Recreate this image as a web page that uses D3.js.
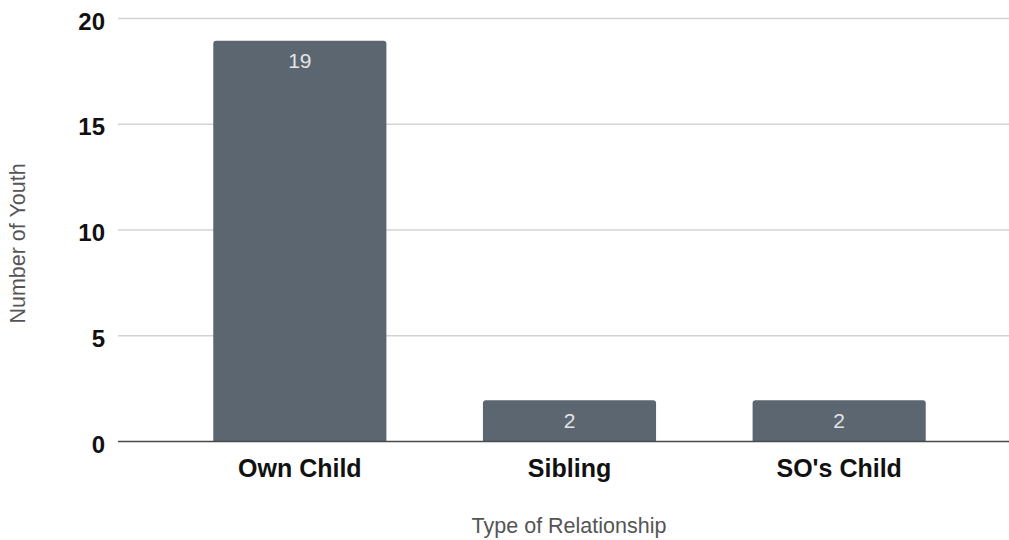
<!DOCTYPE html>
<html><head><meta charset="utf-8">
<script src="https://cdn.jsdelivr.net/npm/d3@7"></script>
<style>body{margin:0;background:#fff}svg{display:block;font-family:"Liberation Sans",Arial,sans-serif}</style>
</head><body>
<svg id="c" width="1009" height="540"></svg>
<script>
const categories = ["Own Child", "Sibling", "SO's Child"];
const values = [19, 2, 2];
const yTicks = [0, 5, 10, 15, 20];
const xTitle = "Type of Relationship";
const yTitle = "Number of Youth";

const svg = d3.select("#c");
const plotL = 118, plotR = 1009, y0 = 441.5, y1 = 18.5;
const y = d3.scaleLinear().domain([0, 20]).range([y0, y1]);
const x = d3.scaleBand().domain(categories).range([165, 974]).paddingInner(0.358).paddingOuter(0.179);

// gridlines
svg.append("g").selectAll("line").data(yTicks.filter(d => d > 0)).join("line")
  .attr("x1", plotL).attr("x2", plotR).attr("y1", d => y(d)).attr("y2", d => y(d))
  .attr("stroke", "#d3d3d3").attr("stroke-width", 1.5);

// y axis labels
const yAxis = d3.axisLeft(y).tickValues(yTicks).tickSize(0).tickPadding(0);
const ga = svg.append("g").attr("transform", `translate(105,0)`).call(yAxis);
ga.select(".domain").remove();
ga.selectAll("text").attr("font-size", 24).attr("font-weight", "bold").attr("fill", "#111")
  .attr("dy", "0.44em")
  .attr("font-family", "Liberation Sans, Arial, sans-serif");

// bars with rounded top
const r = 3;
svg.append("g").selectAll("path").data(values).join("path")
  .attr("fill", "#5b6670")
  .attr("d", (d, i) => {
    const x0 = x(categories[i]), w = x.bandwidth(), t = y(d) + 1, b = y(0);
    return `M${x0},${b}V${t + r}Q${x0},${t} ${x0 + r},${t}H${x0 + w - r}Q${x0 + w},${t} ${x0 + w},${t + r}V${b}Z`;
  });

// value labels
svg.append("g").selectAll("text").data(values).join("text")
  .attr("x", (d, i) => x(categories[i]) + x.bandwidth() / 2)
  .attr("y", d => y(d) + 28.5)
  .attr("text-anchor", "middle").attr("font-size", 21).attr("fill", "#e2e4e6")
  .text(d => d);

// baseline
svg.append("line").attr("x1", plotL).attr("x2", plotR).attr("y1", y0).attr("y2", y0)
  .attr("stroke", "#4a4a4a").attr("stroke-width", 1.5);

// x axis labels
const xAxis = d3.axisBottom(x).tickSize(0).tickPadding(0);
const gx = svg.append("g").call(xAxis);
gx.select(".domain").remove();
gx.selectAll("text").attr("y", 477).attr("dy", 0).attr("font-size", 25).attr("font-weight", "bold").attr("fill", "#111")
  .attr("font-family", "Liberation Sans, Arial, sans-serif");

// titles
svg.append("text").attr("x", 569).attr("y", 533).attr("text-anchor", "middle")
  .attr("font-size", 21.5).attr("fill", "#555").text(xTitle);
svg.append("text").attr("transform", "translate(25,243.5) rotate(-90)").attr("text-anchor", "middle")
  .attr("font-size", 21.5).attr("fill", "#555").text(yTitle);
</script>
</body></html>
